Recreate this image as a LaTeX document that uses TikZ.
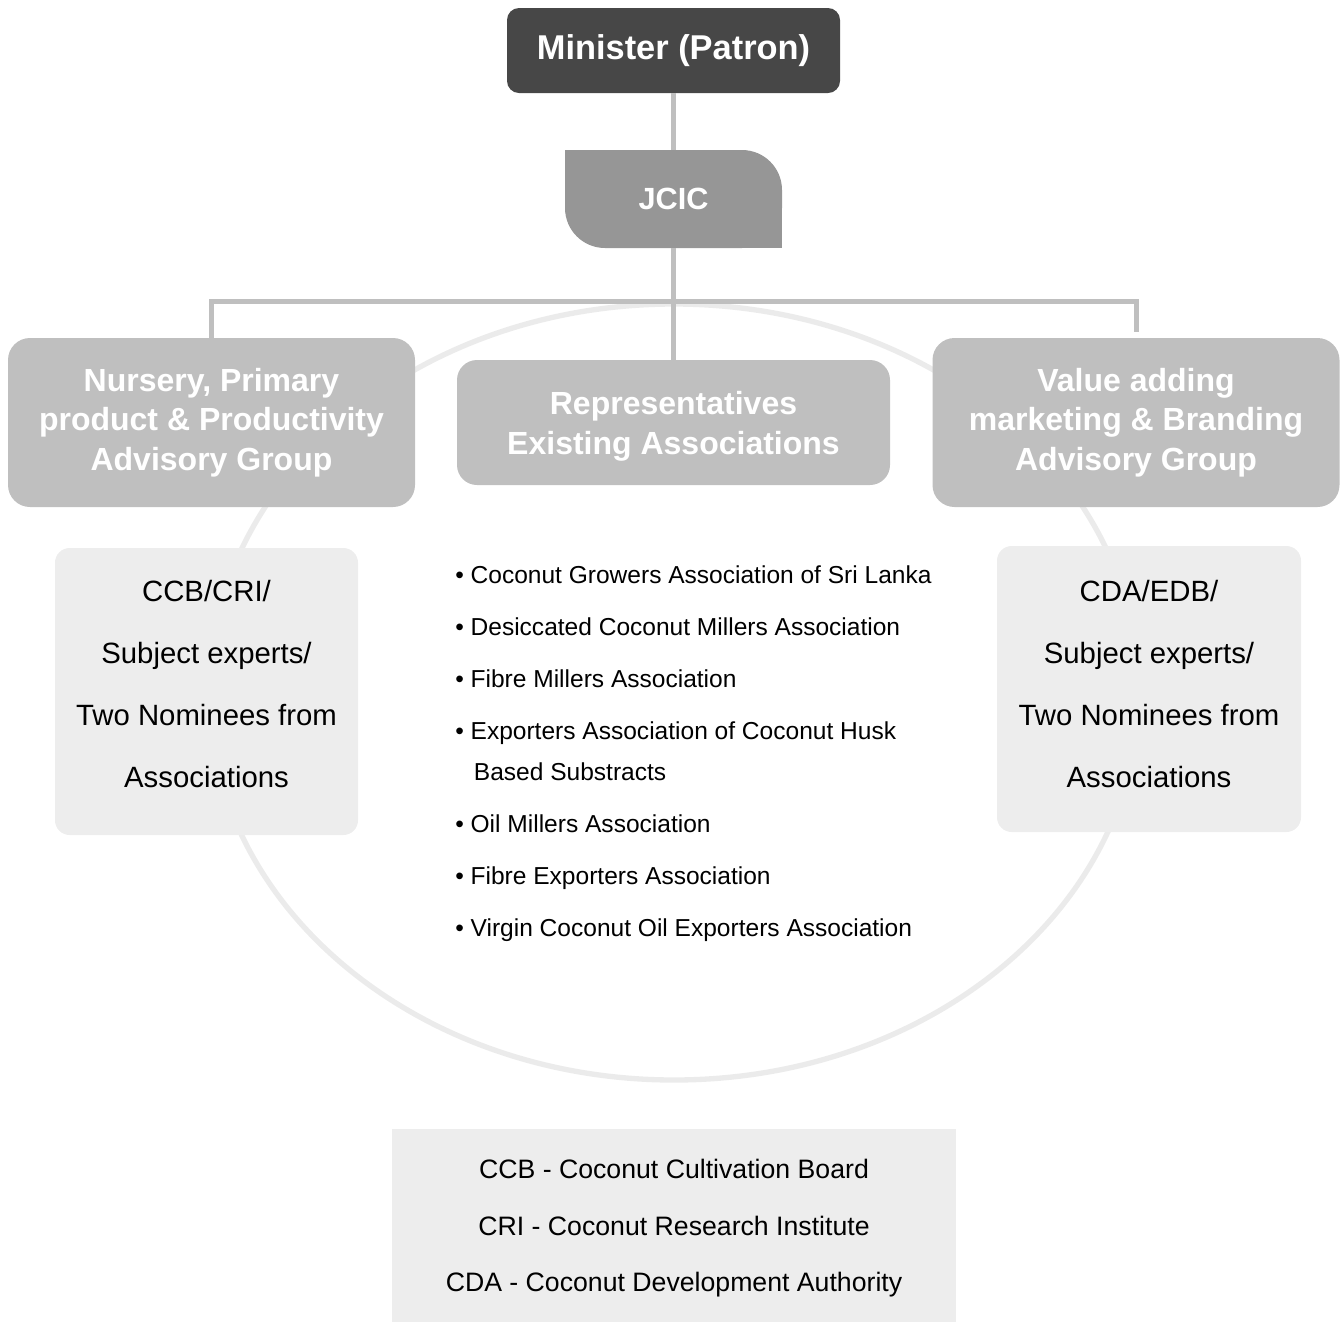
\documentclass[tikz,border=0pt]{standalone}
\usepackage{fontspec}
\setmainfont{Liberation Sans}
\usepackage{tikz}

\definecolor{patrongray}{RGB}{71,71,71}
\definecolor{jcicgray}{RGB}{150,150,150}
\definecolor{groupgray}{RGB}{191,191,191}
\definecolor{memberfill}{RGB}{237,237,237}
\definecolor{ringgray}{RGB}{235,235,235}

\begin{document}
\begin{tikzpicture}[
    x=0.75pt, y=-0.75pt,
    link/.style={draw=groupgray, line width=3.75pt},
    ring/.style={draw=ringgray, line width=4pt},
    patronbox/.style={fill=patrongray, text=white, rounded corners=9pt,
        minimum width=249.75pt, minimum height=63.75pt,
        font={\fontsize{25.8}{30}\selectfont\bfseries}},
    jcicbox/.style={text=white, minimum width=162.75pt, minimum height=73.5pt,
        font={\fontsize{23}{28}\selectfont\bfseries}},
    groupbox/.style={fill=groupgray, text=white, rounded corners=16.5pt,
        align=center, minimum width=305.25pt, minimum height=126.75pt,
        font={\fontsize{24}{29.6}\selectfont\bfseries}},
    repbox/.style={groupbox, rounded corners=15pt, text depth=0pt,
        minimum width=324.75pt, minimum height=93.75pt,
        font={\fontsize{24}{30}\selectfont\bfseries}},
    memberbox/.style={fill=memberfill, rounded corners=11pt, align=center,
        minimum width=227.25pt, minimum height=215.25pt,
        font={\fontsize{22}{46.5}\selectfont}},
    assoclist/.style={align=left, inner sep=0pt,
        font={\fontsize{18.4}{39}\selectfont}},
    legendbox/.style={fill=memberfill, align=center, text depth=0pt,
        minimum width=423pt, minimum height=144.75pt,
        font={\fontsize{20}{42.4}\selectfont}}
    ]
    \useasboundingbox (0,0) rectangle (1343,1322);
    % Ring
    \draw[ring] (674,692) ellipse [x radius=348.75pt, y radius=291pt];
    % Top
    \node[patronbox] (patron) at (673.5,50.5) {Minister (Patron)};
    \fill[jcicgray, rounded corners=30pt] (565,150) rectangle (782,248);
    \fill[jcicgray] (565,150) rectangle (673.5,199);
    \fill[jcicgray] (673.5,199) rectangle (782,248);
    \node[jcicbox] (jcic) at (673.5,199) {JCIC};
    % Groups
    \node[groupbox] (nursery) at (211.5,422.5)
        {Nursery, Primary\\product \& Productivity\\Advisory Group};
    \node[repbox] (reps) at (673.5,422.5)
        {Representatives\\Existing Associations};
    \node[groupbox] (valueadd) at (1136,422.5)
        {Value adding\\marketing \& Branding\\Advisory Group};
    % Members
    \node[memberbox, text depth=12pt] (nurserymembers) at (206.5,691.5)
        {CCB/CRI/\\Subject experts/\\Two Nominees from\\Associations};
    \node[memberbox, text depth=7.5pt, minimum width=228pt, minimum height=214.5pt] (valuemembers) at (1149,689)
        {CDA/EDB/\\Subject experts/\\Two Nominees from\\Associations};
    \node[assoclist, anchor=west] (assoc) at (455,754)
        {• Coconut Growers Association of Sri Lanka\\
         • Desiccated Coconut Millers Association\\
         • Fibre Millers Association\\
         • Exporters Association of Coconut Husk\\[-8.25pt]
         \hspace*{14pt}Based Substracts\\
         • Oil Millers Association\\
         • Fibre Exporters Association\\
         • Virgin Coconut Oil Exporters Association};
    % Legend
    \node[legendbox] (legend) at (674,1225.5)
        {CCB - Coconut Cultivation Board\\
         CRI - Coconut Research Institute\\
         CDA - Coconut Development Authority};
    % Links
    \coordinate (bar) at (674,301);
    \draw[link] (patron) -- (jcic);
    \draw[link] (jcic) -- (reps);
    \draw[link] (nursery.north) |- (bar) -| ([yshift=4.5pt]valueadd.north);
\end{tikzpicture}
\end{document}
